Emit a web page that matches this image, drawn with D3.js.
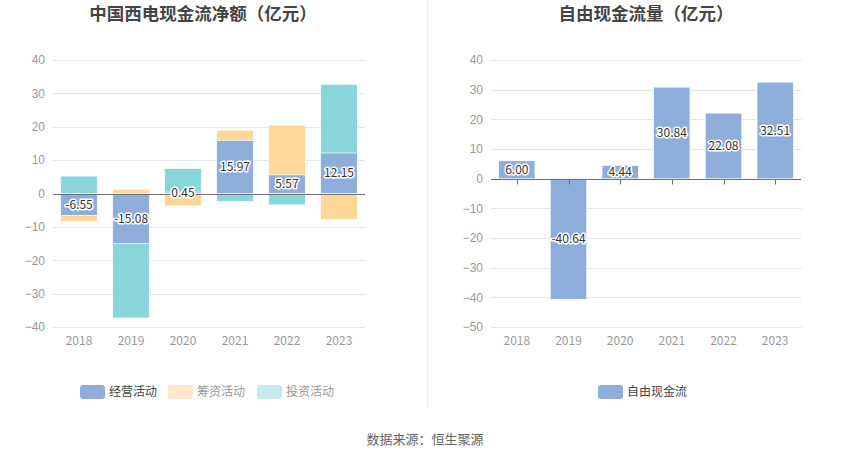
<!DOCTYPE html>
<html>
<head>
<meta charset="utf-8">
<script src="https://cdn.jsdelivr.net/npm/d3@7"></script>
<style>
  body { margin: 0; background: #fff; }
  svg { display: block; font-family: "Noto Sans CJK SC", "Noto Sans", sans-serif; }
</style>
</head>
<body>
<div id="chart"></div>
<script>
const years = ["2018", "2019", "2020", "2021", "2022", "2023"];
const operating = [-6.55, -15.08, 0.45, 15.97, 5.57, 12.15];
const financing = [-1.75, 1.2, -3.7, 3.0, 14.9, -7.7];
const investing = [5.2, -22.2, 7.0, -2.3, -3.4, 20.5];
const freeCash = [6.0, -40.64, 4.44, 30.84, 22.08, 32.51];

const leftTicks = [40, 30, 20, 10, 0, -10, -20, -30, -40];
const rightTicks = [40, 30, 20, 10, 0, -10, -20, -30, -40, -50];

const seriesNames = ["经营活动", "筹资活动", "投资活动"];
const barColors = ["#8eaddb", "#ffd898", "#88d6da"];
const legendColors = ["#8eaddb", "#ffe9c8", "#c3ebed"];
const legendText = ["#444", "#999", "#999"];

const width = 850;
const height = 459;

const svg = d3
  .select("#chart")
  .append("svg")
  .attr("width", width)
  .attr("height", height);

// divider
svg
  .append("line")
  .attr("x1", 427.5)
  .attr("x2", 427.5)
  .attr("y1", 0)
  .attr("y2", 407)
  .attr("stroke", "#eeeeee");

const drawFrame = (g, x, y, ticks) => {
  g.append("g")
    .selectAll("line")
    .data(ticks)
    .enter()
    .append("line")
    .attr("x1", x.range()[0])
    .attr("x2", x.range()[1])
    .attr("y1", d => Math.round(y(d)) + 0.5)
    .attr("y2", d => Math.round(y(d)) + 0.5)
    .attr("stroke", "#e0e6f1");

  const yAxis = d3.axisLeft(y).tickValues(ticks).tickSize(0).tickPadding(8);
  g.append("g")
    .attr("transform", `translate(${x.range()[0]},0)`)
    .call(yAxis)
    .call(a => a.select(".domain").remove())
    .selectAll("text")
    .attr("fill", "#999")
    .attr("font-size", 12);

  const plotBottom = y.range()[0];
  g.append("g")
    .selectAll("text")
    .data(years)
    .enter()
    .append("text")
    .attr("x", d => x(d) + x.bandwidth() / 2)
    .attr("y", plotBottom + 18)
    .attr("text-anchor", "middle")
    .attr("fill", "#999")
    .attr("font-size", 12)
    .text(d => d);
};

const drawZero = (g, x, y, showTickMarks) => {
  const zy = Math.round(y(0)) + 0.5;
  g.append("line")
    .attr("x1", x.range()[0])
    .attr("x2", x.range()[1])
    .attr("y1", zy)
    .attr("y2", zy)
    .attr("stroke", "#6e7079");
  if (showTickMarks) {
    g.append("g")
      .selectAll("line")
      .data(years)
      .enter()
      .append("line")
      .attr("x1", d => Math.round(x(d) + x.bandwidth() / 2) + 0.5)
      .attr("x2", d => Math.round(x(d) + x.bandwidth() / 2) + 0.5)
      .attr("y1", zy)
      .attr("y2", zy + 5)
      .attr("stroke", "#6e7079");
  }
};

const drawLabel = (g, x, y, text) => {
  g.append("text")
    .attr("x", x)
    .attr("y", y)
    .attr("dy", "0.35em")
    .attr("text-anchor", "middle")
    .attr("font-size", 12)
    .attr("fill", "#333")
    .attr("stroke", "#fff")
    .attr("stroke-width", 3)
    .attr("paint-order", "stroke")
    .attr("stroke-linejoin", "round")
    .text(text);
};

// ---- left chart: stacked cash flows
const left = svg.append("g");
const xL = d3.scaleBand().domain(years).range([53, 365]).paddingInner(0.3).paddingOuter(0.15);
const yL = d3.scaleLinear().domain([-40, 40]).range([327, 60]);

drawFrame(left, xL, yL, leftTicks);

const rows = years.map((yr, i) => ({
  year: yr,
  经营活动: operating[i],
  筹资活动: financing[i],
  投资活动: investing[i]
}));
const stacked = d3.stack().keys(seriesNames).offset(d3.stackOffsetDiverging)(rows);

left
  .selectAll("g.series")
  .data(stacked)
  .enter()
  .append("g")
  .attr("class", "series")
  .attr("fill", (d, i) => barColors[i])
  .selectAll("rect")
  .data(d => d)
  .enter()
  .append("rect")
  .attr("x", d => xL(d.data.year))
  .attr("width", xL.bandwidth())
  .attr("y", d => yL(Math.max(d[0], d[1])))
  .attr("height", d => Math.abs(yL(d[0]) - yL(d[1])))
  .attr("stroke", "#fff")
  .attr("stroke-width", 0.5);

drawZero(left, xL, yL, false);

stacked[0].forEach(d => {
  drawLabel(left, xL(d.data.year) + xL.bandwidth() / 2, yL((d[0] + d[1]) / 2), d.data["经营活动"].toFixed(2));
});

left
  .append("text")
  .attr("x", 203)
  .attr("y", 20)
  .attr("text-anchor", "middle")
  .attr("font-size", 17.5)
  .attr("font-weight", "bold")
  .attr("fill", "#444")
  .text("中国西电现金流净额（亿元）");

const legendX = [80, 168, 257];
seriesNames.forEach((name, i) => {
  left
    .append("rect")
    .attr("x", legendX[i])
    .attr("y", 385)
    .attr("width", 25)
    .attr("height", 14)
    .attr("rx", 3)
    .attr("fill", legendColors[i]);
  left
    .append("text")
    .attr("x", legendX[i] + 29)
    .attr("y", 392)
    .attr("dy", "0.35em")
    .attr("font-size", 12)
    .attr("fill", legendText[i])
    .text(name);
});

// ---- right chart: free cash flow
const right = svg.append("g");
const xR = d3.scaleBand().domain(years).range([491, 801]).paddingInner(0.3).paddingOuter(0.15);
const yR = d3.scaleLinear().domain([-50, 40]).range([327, 60]);

drawFrame(right, xR, yR, rightTicks);

right
  .selectAll("rect.bar")
  .data(freeCash)
  .enter()
  .append("rect")
  .attr("class", "bar")
  .attr("x", (d, i) => xR(years[i]))
  .attr("width", xR.bandwidth())
  .attr("y", d => yR(Math.max(0, d)))
  .attr("height", d => Math.abs(yR(d) - yR(0)))
  .attr("fill", barColors[0])
  .attr("stroke", "#fff")
  .attr("stroke-width", 0.5);

drawZero(right, xR, yR, true);

freeCash.forEach((v, i) => {
  drawLabel(right, xR(years[i]) + xR.bandwidth() / 2, yR(v / 2), v.toFixed(2));
});

right
  .append("text")
  .attr("x", 646)
  .attr("y", 20)
  .attr("text-anchor", "middle")
  .attr("font-size", 17.5)
  .attr("font-weight", "bold")
  .attr("fill", "#444")
  .text("自由现金流量（亿元）");

right
  .append("rect")
  .attr("x", 598)
  .attr("y", 385)
  .attr("width", 25)
  .attr("height", 14)
  .attr("rx", 3)
  .attr("fill", barColors[0]);
right
  .append("text")
  .attr("x", 627)
  .attr("y", 392)
  .attr("dy", "0.35em")
  .attr("font-size", 12)
  .attr("fill", "#444")
  .text("自由现金流");

svg
  .append("text")
  .attr("x", 425)
  .attr("y", 439)
  .attr("dy", "0.35em")
  .attr("text-anchor", "middle")
  .attr("font-size", 13)
  .attr("fill", "#666")
  .text("数据来源：恒生聚源");
</script>
</body>
</html>
